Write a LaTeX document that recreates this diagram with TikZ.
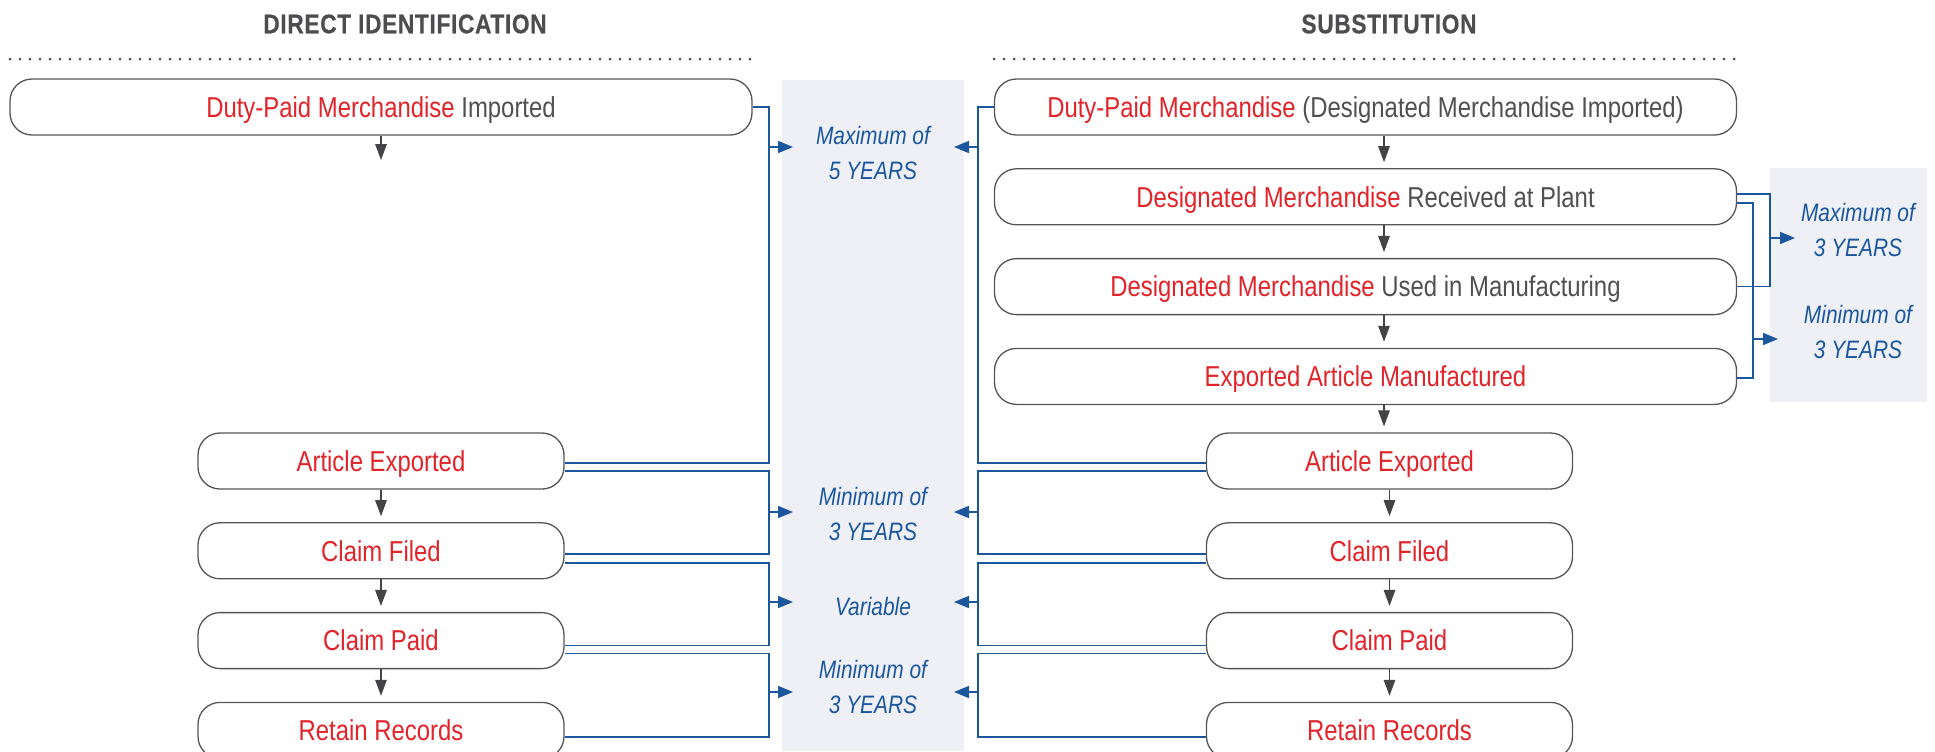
\documentclass[tikz,border=0pt]{standalone}
\usepackage{fontspec}
\setmainfont{Liberation Sans}[FakeStretch=0.83]
\newfontfamily\headfont{Liberation Sans}[FakeStretch=0.84,LetterSpace=2.5,FakeBold=0.4]
\usepackage{xcolor}
\usepackage{tikz}
\usetikzlibrary{positioning, arrows.meta, calc}

\definecolor{stepred}{RGB}{226,35,41}
\definecolor{txtgray}{RGB}{80,80,82}
\definecolor{headgray}{RGB}{77,77,79}
\definecolor{boxgray}{RGB}{85,85,87}
\definecolor{arrgray}{RGB}{68,68,70}
\definecolor{linkblue}{RGB}{28,86,156}
\definecolor{panelfill}{RGB}{238,240,246}

\begin{document}
\begin{tikzpicture}[x=0.5pt, y=-0.5pt, node distance=16.25pt,
  stepbox/.style={draw=boxgray, line width=0.65pt, rounded corners=11pt, minimum height=28pt,
    inner sep=0pt, text height=10.3pt, text depth=0pt, text=stepred, font=\fontsize{14.4}{16}\selectfont},
  widebox/.style={stepbox, minimum width=371pt},
  shortbox/.style={stepbox, minimum width=183pt},
  flow/.style={draw=arrgray, line width=0.55pt, -{Triangle[length=8pt,width=5.8pt]}, shorten >=3pt},
  link/.style={draw=linkblue, line width=0.85pt},
  span/.style={link, -{Triangle[length=7.5pt,width=6pt]}},
  period/.style={text=linkblue, align=center, font=\fontsize{12.6}{17.5}\selectfont\itshape},
  head/.style={text=headgray, font=\headfont\bfseries\fontsize{13.5}{16}\selectfont},
  rule/.style={draw=headgray, line width=1.5pt, line cap=round, dash pattern=on 0pt off 5pt}]
\useasboundingbox (0,0) rectangle (1935,751);

% shaded time bands
\fill[panelfill] (782,80) rectangle (964,751);
\fill[panelfill] (1770,168) rectangle (1927,402);

% headings
\node[head] (dtitle) at (405,24) {DIRECT IDENTIFICATION};
\node[head] (stitle) at (1389,24) {SUBSTITUTION};
\draw[rule] (10,59) -- (753,59);
\draw[rule] (994,59) -- (1738,59);

% direct identification steps
\node[widebox] (limp) at (381,107) {Duty-Paid Merchandise \textcolor{txtgray}{Imported}};
\node[shortbox] (lexp) at (381,461) {Article Exported};
\node[shortbox, below=of lexp] (lfil) {Claim Filed};
\node[shortbox, below=of lfil] (lpai) {Claim Paid};
\node[shortbox, below=of lpai] (lret) {Retain Records};

% substitution steps
\node[widebox] (rimp) at (1365.5,107) {Duty-Paid Merchandise \textcolor{txtgray}{(Designated Merchandise Imported)}};
\node[widebox, below=of rimp] (rrec) {Designated Merchandise \textcolor{txtgray}{Received at Plant}};
\node[widebox, below=of rrec] (ruse) {Designated Merchandise \textcolor{txtgray}{Used in Manufacturing}};
\node[widebox, below=of ruse] (rman) {Exported Article Manufactured};
\node[shortbox] (rexp) at (1389.5,461) {Article Exported};
\node[shortbox, below=of rexp] (rfil) {Claim Filed};
\node[shortbox, below=of rfil] (rpai) {Claim Paid};
\node[shortbox, below=of rpai] (rret) {Retain Records};

% down arrows
\coordinate (lstub) at (381,160);
\coordinate (rax) at (1384,0);
\draw[flow, shorten >=0pt] (limp) -- (lstub);
\draw[flow] (lexp) -- (lfil);
\draw[flow] (lfil) -- (lpai);
\draw[flow] (lpai) -- (lret);
\draw[flow] (rimp.south -| rax) -- (rrec.north -| rax);
\draw[flow] (rrec.south -| rax) -- (ruse.north -| rax);
\draw[flow] (ruse.south -| rax) -- (rman.north -| rax);
\draw[flow] (rman.south -| rax) -- (rexp.north -| rax);
\draw[flow] (rexp) -- (rfil);
\draw[flow] (rfil) -- (rpai);
\draw[flow] (rpai) -- (rret);

% time periods
\node[period] (lim5) at (873,153) {Maximum of\\5 YEARS};
\node[period] (min3a) at (873,514) {Minimum of\\3 YEARS};
\node[period] (vary) at (873,606) {Variable};
\node[period] (min3b) at (873,687) {Minimum of\\3 YEARS};
\node[period] (lim3) at (1858,230) {Maximum of\\3 YEARS};
\node[period] (min3c) at (1858,332) {Minimum of\\3 YEARS};

% brackets, left side
\draw[link] (limp.east) -- ++(16,0) |- ($(lexp.east)+(0,2)$);
\draw[link] ($(lexp.east)+(0,10)$) -- ++(204,0) |- ($(lfil.east)+(0,3.5)$);
\draw[link] ($(lfil.east)+(0,12.5)$) -- ++(204,0) |- ($(lpai.east)+(0,5)$);
\draw[link] ($(lpai.east)+(0,13)$) -- ++(204,0) |- ($(lret.east)+(0,6.5)$);
\draw[span] (768,147) -- (793,147);
\draw[span] (768,512) -- (793,512);
\draw[span] (768,602) -- (793,602);
\draw[span] (768,692) -- (793,692);

% brackets, right side
\draw[link] (rimp.west) -- ++(-16,0) |- ($(rexp.west)+(0,2)$);
\draw[link] ($(rexp.west)+(0,10)$) -- ++(-228,0) |- ($(rfil.west)+(0,3.5)$);
\draw[link] ($(rfil.west)+(0,12.5)$) -- ++(-228,0) |- ($(rpai.west)+(0,5)$);
\draw[link] ($(rpai.west)+(0,13)$) -- ++(-228,0) |- ($(rret.west)+(0,6.5)$);
\draw[span] (979,147) -- (954,147);
\draw[span] (979,512) -- (954,512);
\draw[span] (979,602) -- (954,602);
\draw[span] (979,692) -- (954,692);

\draw[link] ($(rrec.east)+(0,-2.5)$) -- ++(33,0) |- (ruse.east);
\draw[link] ($(rrec.east)+(0,6.5)$) -- ++(16,0) |- ($(rman.east)+(0,1.5)$);
\draw[span] (1769,238) -- (1795,238);
\draw[span] (1752,339) -- (1778,339);
\end{tikzpicture}
\end{document}
